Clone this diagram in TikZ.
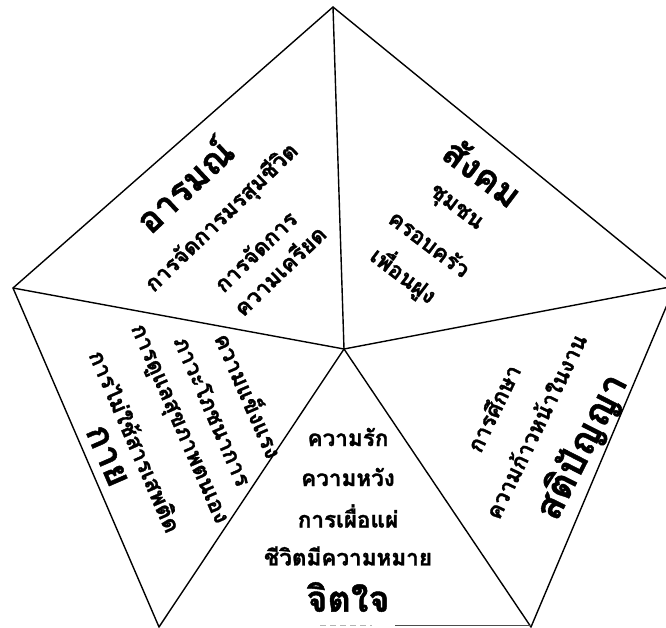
\documentclass[tikz,border=0pt]{standalone}
\usepackage{fontspec}
\newfontfamily\thaifont[Script=Thai, BoldFeatures={FakeBold=1.2}]{Loma}
\begin{document}
\begin{tikzpicture}[x=1pt,y=-1pt,
  edge/.style={line width=1.4pt, line join=round, line cap=round},
  item/.style={font=\thaifont\bfseries\fontsize{22.5}{26}\selectfont, inner sep=0pt},
  title/.style={font=\thaifont\bfseries\fontsize{36}{40}\selectfont, inner sep=0pt}]
\useasboundingbox (0,0) rectangle (666,628);
\clip (0,0) rectangle (666,628);
\coordinate (T) at (333,7);
\coordinate (R) at (675,286);
\coordinate (BR) at (531,627);
\coordinate (BL) at (159,627);
\coordinate (L) at (13,288);
\coordinate (C) at (344,349);
\coordinate (b1) at (395,625.6);
\coordinate (b2) at (320,625.6);
\coordinate (b3) at (372,625.6);
\coordinate (b4) at (531,625.6);
% outline and spokes
\draw[edge] (BR) -- (R) -- (T) -- (L) -- (BL);
\foreach \v in {T,R,BR,BL,L} \draw[edge] (C) -- (\v);
\draw[black!70, line width=1.6pt] (b1) -- (b4);
\draw[gray!60, line width=1.4pt, dash pattern=on 6pt off 4pt] (b2) -- (b3);
% emotion
\node[title, rotate=43] (emo) at (183,184) {อารมณ์};
\node[item, rotate=44] (emo1) at (222,218) {การจัดการมรสุมชีวิต};
\node[item, rotate=44] (emo2) at (255,251) {การจัดการ};
\node[item, rotate=44] (emo3) at (279,270) {ความเครียด};
% social
\node[title, rotate=-37] (soc) at (483,172) {สังคม};
\node[item, rotate=-37] (soc1) at (455,209) {ชุมชน};
\node[item, rotate=-37] (soc2) at (430,243) {ครอบครัว};
\node[item, rotate=-37] (soc3) at (404,275) {เพื่อนฝูง};
% intellect
\node[item, rotate=64] (int1) at (493,408) {การศึกษา};
\node[item, rotate=64] (int2) at (535,426) {ความก้าวหน้าในงาน};
\node[title, rotate=63, font=\thaifont\bfseries\fontsize{38}{42}\selectfont] (int) at (582,447) {สติปัญญา};
% body
\node[item, rotate=-66.5] (bod1) at (250,395) {ความแข็งแรง};
\node[item, rotate=-66.5] (bod2) at (213,411) {ภาวะโภชนาการ};
\node[item, rotate=-66.5] (bod3) at (177,425) {การดูแลสุขภาพตนเอง};
\node[item, rotate=-66.5] (bod4) at (136,441) {การไม่ใช้สารเสพติด};
\node[title, rotate=-66.5] (bod) at (107,456) {กาย};
% mind
\node[item] (mind1) at (348,437) {ความรัก};
\node[item] (mind2) at (348,477) {ความหวัง};
\node[item] (mind3) at (348,516) {การเผื่อแผ่};
\node[item] (mind4) at (348,556) {ชีวิตมีความหมาย};
\node[title] (mind) at (348,597) {จิตใจ};
\end{tikzpicture}
\end{document}
